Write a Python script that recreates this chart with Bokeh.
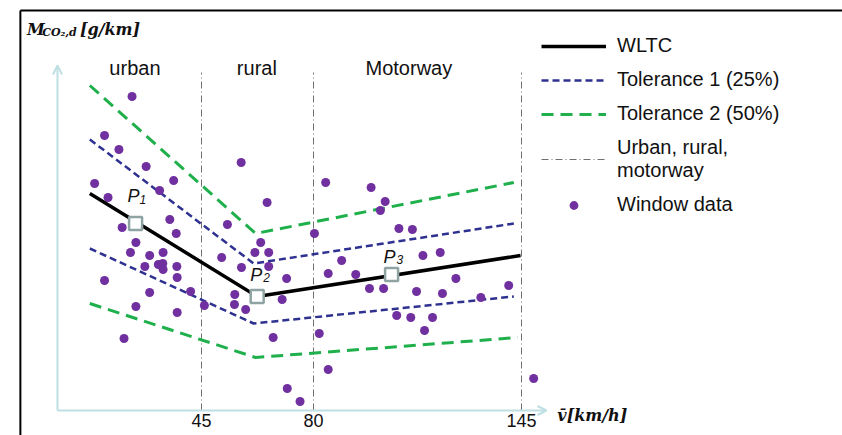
from bokeh.plotting import figure
from bokeh.models import (Range1d, Arrow, OpenHead, Label, Legend, LegendItem)
from bokeh.core.properties import value
from bokeh.embed import file_html
from bokeh.resources import INLINE

# ---------------- data (speed in km/h, CO2 in g/km, schematic) ----------------
x_ticks = [45, 80, 145]
tick_labels = ["45", "80", "145"]
boundaries = [45, 80, 145]
section_names = ["urban", "rural", "Motorway"]

wltc_x = [10.1, 62.4, 144.7]
wltc_y = [217, 114, 155]

tol1_up_x = [10.1, 61.3, 142.6]
tol1_up_y = [271, 147, 187]
tol1_lo_x = [10.1, 61.3, 142.6]
tol1_lo_y = [162, 87, 114]

tol2_up_x = [10.1, 61.9, 142.6]
tol2_up_y = [325, 177, 228]
tol2_lo_x = [10.1, 61.9, 143.8]
tol2_lo_y = [107, 53, 73]

p_names = ["1", "2", "3"]
p_x = [24.4, 62.4, 104.4]
p_y = [187, 114, 136]

win_x = [23.3, 14.7, 19.2, 27.7, 57.4, 11.6, 36.3, 15.8, 31.9, 65.5,
         35.1, 20.2, 37.1, 53.1, 24.5, 63.5, 22.8, 28.8, 33.0, 51.3,
         61.7, 66.0, 27.3, 31.5, 32.9, 33.0, 37.3, 57.5, 66.0, 14.7,
         37.4, 71.6, 28.8, 41.6, 55.4, 70.2, 24.5, 37.4, 45.9, 55.3,
         58.8, 20.8, 67.4, 71.8, 75.8,
         83.8, 98.0, 102.4, 100.9, 80.3, 106.7, 110.9, 88.8, 114.2, 119.6,
         84.6, 93.2, 97.5, 101.9, 124.5, 112.2, 120.3, 141.0, 132.3, 106.0,
         110.4, 117.2, 114.7, 81.8, 84.6, 148.8]
win_y = [314, 275, 261, 244, 248, 227, 230, 213, 220, 208,
         191, 183, 177, 186, 168, 168, 158, 155, 158, 153,
         158, 158, 144, 146, 147, 141, 144, 143, 144, 130,
         133, 132, 118, 119, 116, 111, 104, 98, 105, 106,
         101, 72, 73, 22, 9,
         228, 223, 209, 200, 177, 182, 181, 150, 155, 158,
         137, 136, 122, 122, 132, 119, 117, 125, 113, 95,
         93, 93, 80, 77, 41, 32]

# ---------------- styling / layout ----------------
GREEN = "#1fb04c"
NAVY = "#2e3190"
PURPLE = "#7030a0"
AXIS = "#bfe0e3"
BOX = "#8fa3a3"
TXT = "#111111"
SANS = "Liberation Sans"
SERIF = "DejaVu Serif"

p = figure(width=842, height=435, output_backend="svg", toolbar_location=None,
           x_range=Range1d(-17.8125, 245.3125), y_range=Range1d(-25, 410),
           x_axis_location=None, y_axis_location=None,
           min_border=0, min_border_left=0, min_border_right=0,
           min_border_top=0, min_border_bottom=0)
p.outline_line_color = None
p.xgrid.visible = False
p.ygrid.visible = False
p.background_fill_color = "white"
p.border_fill_color = "white"

# black frame (top and left)
p.segment(x0=[-11.6, -11.6], y0=[400, 400], x1=[245.3, -11.6], y1=[400, -25],
          line_color="black", line_width=2)

# axes arrows
p.add_layout(Arrow(end=OpenHead(size=9, line_color=AXIS, line_width=2),
                   x_start=0, y_start=0, x_end=152.8, y_end=0,
                   line_color=AXIS, line_width=2))
p.add_layout(Arrow(end=OpenHead(size=9, line_color=AXIS, line_width=2),
                   x_start=0, y_start=0, x_end=0, y_end=345,
                   line_color=AXIS, line_width=2))

# x tick labels (through the x scale)
p.text(x=x_ticks, y=-3, text=tick_labels, text_font=value(SANS),
       text_font_size="18px", text_align="center", text_baseline="top",
       text_color=TXT)

# section dividers
r_div = p.segment(x0=boundaries, y0=0, x1=boundaries, y1=338,
                  line_color="#707070", line_width=1, line_dash="7 3 1 3")

p.text(x=[24.2, 62.3, 109.8], y=343, text=section_names,
       text_font=value(SANS), text_font_size="20px", text_align="center",
       text_baseline="middle", text_color=TXT)

# tolerance bands
r_t2 = p.line(tol2_up_x, tol2_up_y, line_color=GREEN, line_width=3, line_dash="12 7")
p.line(tol2_lo_x, tol2_lo_y, line_color=GREEN, line_width=3, line_dash="12 7")
r_t1 = p.line(tol1_up_x, tol1_up_y, line_color=NAVY, line_width=2.5, line_dash="7 4")
p.line(tol1_lo_x, tol1_lo_y, line_color=NAVY, line_width=2.5, line_dash="7 4")

# window data
r_win = p.scatter(win_x, win_y, size=9, marker="circle", fill_color=PURPLE,
                  line_color=None)

# WLTC line
r_wltc = p.line(wltc_x, wltc_y, line_color="black", line_width=3.5)

p.scatter(p_x, p_y, marker="square", size=13, fill_color="white",
          line_color=BOX, line_width=2.5)
p.text(x=p_x, y=p_y, text=["P"] * 3, x_offset=[-8, -7, -8],
       y_offset=[-28, -22, -18], text_font=value(SANS), text_font_style="italic",
       text_font_size="18px", text_baseline="alphabetic", text_color=TXT)
p.text(x=p_x, y=p_y, text=p_names, x_offset=[4, 6, 5],
       y_offset=[-24, -19, -15], text_font=value(SANS), text_font_style="italic",
       text_font_size="12px", text_baseline="alphabetic", text_color=TXT)

# axis titles
p.add_layout(Label(x=-9.5, y=381.5, text="M", text_font=SERIF,
                   text_font_style="bold italic", text_font_size="16px",
                   text_baseline="alphabetic", text_color=TXT))
p.add_layout(Label(x=-4.8, y=378, text="CO\u2082,d", text_font=SERIF,
                   text_font_style="bold italic", text_font_size="11px",
                   text_baseline="alphabetic", text_color=TXT))
p.add_layout(Label(x=7.0, y=381.5, text="[g/km]", text_font=SERIF,
                   text_font_style="bold italic", text_font_size="16px",
                   text_baseline="alphabetic", text_color=TXT))
p.add_layout(Label(x=156.2, y=-5, text="v\u0304[km/h]", text_font=SERIF,
                   text_font_style="bold italic", text_font_size="16px",
                   text_baseline="alphabetic", text_color=TXT))

legend = Legend(items=[
    LegendItem(label="WLTC", renderers=[r_wltc]),
    LegendItem(label="Tolerance 1 (25%)", renderers=[r_t1]),
    LegendItem(label="Tolerance 2 (50%)", renderers=[r_t2]),
    LegendItem(label="Urban, rural,\nmotorway", renderers=[r_div]),
    LegendItem(label="Window data", renderers=[r_win]),
], location=(541, 219))
legend.label_text_font = SANS
legend.label_text_font_size = "20px"
legend.label_text_color = TXT
legend.glyph_width = 65
legend.glyph_height = 22
legend.label_height = 22
legend.label_standoff = 11
legend.spacing = 11
legend.padding = 0
legend.margin = 0
legend.border_line_color = None
legend.background_fill_alpha = 0
p.add_layout(legend)

open("out.html", "w").write(file_html(p, INLINE))
